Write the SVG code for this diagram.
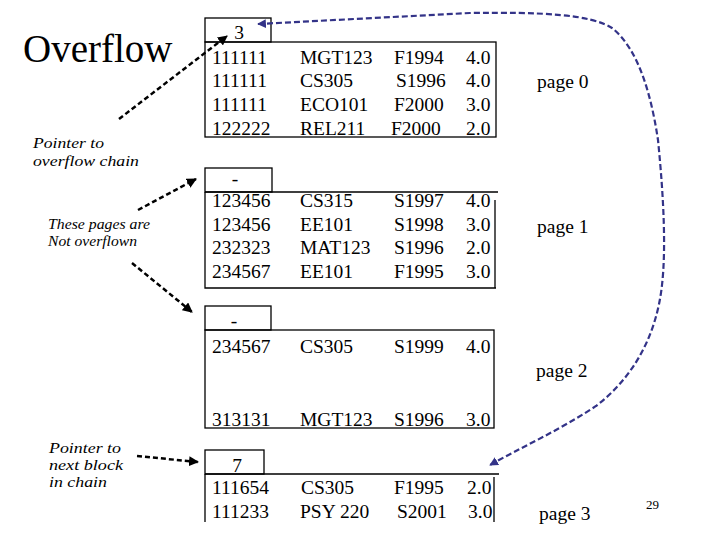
<svg xmlns="http://www.w3.org/2000/svg" width="720" height="540" viewBox="0 0 720 540">
<style>
  text { font-family: "Liberation Serif", Tinos, "Times New Roman", Times, "DejaVu Serif", serif; fill: #000; }
  .t { font-size: 19.5px; }
  .title { font-size: 39px; }
  .note { font-style: italic; font-size: 15px; }
  .box { fill: none; stroke: #000; stroke-width: 1.3; }
  .ptr { fill: none; stroke: #000; stroke-width: 2.5; stroke-dasharray: 5 3; }
  .chain { fill: none; stroke: #333388; stroke-width: 2.2; stroke-dasharray: 6 3; }
  .c { text-anchor: middle; }
</style>
<defs>
  <marker id="ah" viewBox="0 0 10 10" refX="9" refY="5" markerWidth="4" markerHeight="4" orient="auto-start-reverse">
    <path d="M0,0 L10,5 L0,10 Z" fill="#000"/>
  </marker>
  <marker id="ahb" viewBox="0 0 10 10" refX="9" refY="5" markerWidth="4" markerHeight="4" orient="auto-start-reverse">
    <path d="M0,0 L10,5 L0,10 Z" fill="#333388"/>
  </marker>
</defs>
<rect width="720" height="540" fill="#fff"/>

<g id="title"><text class="title" x="23" y="62">Overflow</text></g>

<g id="label-overflow-pointer">
  <text class="note" x="33" y="148" textLength="71" lengthAdjust="spacingAndGlyphs">Pointer to</text>
  <text class="note" x="33" y="166" textLength="106" lengthAdjust="spacingAndGlyphs">overflow chain</text>
</g>
<g id="label-not-overflown">
  <text class="note" x="48" y="229" textLength="102" lengthAdjust="spacingAndGlyphs">These pages are</text>
  <text class="note" x="48" y="246" textLength="89" lengthAdjust="spacingAndGlyphs">Not overflown</text>
</g>
<g id="label-next-block">
  <text class="note" x="49" y="453" textLength="72" lengthAdjust="spacingAndGlyphs">Pointer to</text>
  <text class="note" x="49" y="470" textLength="74" lengthAdjust="spacingAndGlyphs">next block</text>
  <text class="note" x="49" y="487" textLength="58" lengthAdjust="spacingAndGlyphs">in chain</text>
</g>

<g id="page0">
  <rect class="box" x="205" y="18" width="66" height="24"/>
  <rect class="box" x="205" y="42" width="291" height="95"/>
  <text class="t c" x="239" y="39">3</text>
  <text class="t" x="212" y="64">111111</text><text class="t" x="300" y="64">MGT123</text><text class="t" x="394" y="64">F1994</text><text class="t" x="466" y="64">4.0</text>
  <text class="t" x="212" y="87">111111</text><text class="t" x="300" y="87">CS305</text><text class="t" x="396" y="87">S1996</text><text class="t" x="466" y="87">4.0</text>
  <text class="t" x="212" y="110.5">111111</text><text class="t" x="300" y="110.5">ECO101</text><text class="t" x="394" y="110.5">F2000</text><text class="t" x="466" y="110.5">3.0</text>
  <text class="t" x="212" y="134.5">122222</text><text class="t" x="300" y="134.5">REL211</text><text class="t" x="391" y="134.5">F2000</text><text class="t" x="466" y="134.5">2.0</text>
  <text class="t" x="537" y="88">page 0</text>
</g>

<g id="page1">
  <rect class="box" x="205" y="168" width="67" height="24"/>
  <path class="box" d="M205,192 H498 M205,192 V288 H496 M495,200 V288"/>
  <text class="t c" x="235" y="185">-</text>
  <text class="t" x="212" y="207">123456</text><text class="t" x="300" y="207">CS315</text><text class="t" x="394" y="207">S1997</text><text class="t" x="466" y="207">4.0</text>
  <text class="t" x="212" y="230.5">123456</text><text class="t" x="300" y="230.5">EE101</text><text class="t" x="394" y="230.5">S1998</text><text class="t" x="466" y="230.5">3.0</text>
  <text class="t" x="212" y="254">232323</text><text class="t" x="300" y="254">MAT123</text><text class="t" x="394" y="254">S1996</text><text class="t" x="466" y="254">2.0</text>
  <text class="t" x="212" y="277.5">234567</text><text class="t" x="300" y="277.5">EE101</text><text class="t" x="394" y="277.5">F1995</text><text class="t" x="466" y="277.5">3.0</text>
  <text class="t" x="537" y="233">page 1</text>
</g>

<g id="page2">
  <rect class="box" x="205" y="306" width="66" height="24"/>
  <rect class="box" x="205" y="330" width="289" height="98"/>
  <text class="t c" x="234" y="327">-</text>
  <text class="t" x="212" y="353">234567</text><text class="t" x="300" y="353">CS305</text><text class="t" x="394" y="353">S1999</text><text class="t" x="466" y="353">4.0</text>
  <text class="t" x="212" y="426">313131</text><text class="t" x="300" y="426">MGT123</text><text class="t" x="394" y="426">S1996</text><text class="t" x="466" y="426">3.0</text>
  <text class="t" x="536" y="377">page 2</text>
</g>

<g id="page3">
  <rect class="box" x="205" y="450" width="59" height="24"/>
  <path class="box" d="M205,474 H499 M205,474 V522 M494,477 V522"/>
  <text class="t c" x="237" y="472">7</text>
  <text class="t" x="212" y="494">111654</text><text class="t" x="301" y="494">CS305</text><text class="t" x="394" y="494">F1995</text><text class="t" x="467" y="494">2.0</text>
  <text class="t" x="212" y="518">111233</text><text class="t" x="300" y="518">PSY 220</text><text class="t" x="397" y="518">S2001</text><text class="t" x="468" y="518">3.0</text>
  <text class="t" x="539" y="520">page 3</text>
</g>

<g id="slide-number"><text class="t" style="font-size:13px" x="646" y="509">29</text></g>

<g id="connectors">
  <line class="ptr" x1="119" y1="119" x2="227" y2="36" marker-end="url(#ah)"/>
  <line class="ptr" x1="138" y1="210" x2="196" y2="179" marker-end="url(#ah)"/>
  <line class="ptr" x1="132" y1="263" x2="192" y2="312" marker-end="url(#ah)"/>
  <line class="ptr" x1="137" y1="456" x2="198" y2="462" marker-end="url(#ah)"/>
  <path class="chain" d="M258,24 L470,13 C540,12 590,14 612,28 C640,50 652,100 658,140 C664,200 666,250 662,285 C656,340 630,380 596,406 C560,430 520,448 490,465" marker-start="url(#ahb)" marker-end="url(#ahb)"/>
</g>
</svg>
